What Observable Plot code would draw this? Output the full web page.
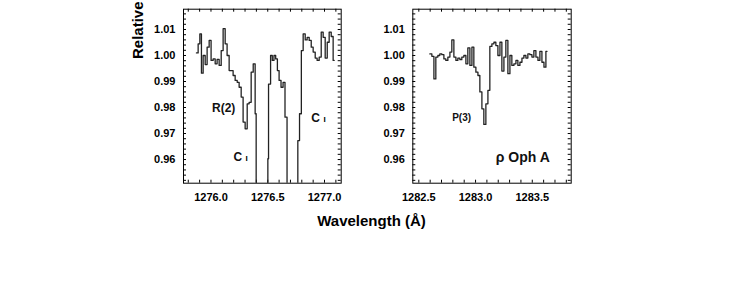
<!DOCTYPE html>
<html>
<head>
<meta charset="utf-8">
<script src="https://cdn.jsdelivr.net/npm/d3@7"></script>
<script src="https://cdn.jsdelivr.net/npm/@observablehq/plot@0.6"></script>
<style>
  html, body { margin: 0; padding: 0; background: #fff; }
  #wrap { position: relative; width: 739px; height: 292px; background: #fff; overflow: hidden; }
  #wrap > .panel { position: absolute; top: 0; }
  #overlay { position: absolute; left: 0; top: 0; }
</style>
</head>
<body>
<div id="wrap"></div>
<script>
// ---- Data: left panel (C I 1276 region, R(2)) ----
const leftWl = [1275.872, 1275.887, 1275.902, 1275.916, 1275.931, 1275.949, 1275.966, 1275.984,
  1276.001, 1276.019, 1276.037, 1276.054, 1276.072, 1276.090, 1276.107, 1276.125, 1276.142,
  1276.160, 1276.178, 1276.195, 1276.213, 1276.231, 1276.248, 1276.266, 1276.283, 1276.301,
  1276.319, 1276.336, 1276.354, 1276.372, 1276.389, 1276.398, 1276.501, 1276.507, 1276.525,
  1276.540, 1276.555, 1276.570, 1276.585, 1276.600, 1276.617, 1276.635, 1276.652, 1276.670,
  1276.765, 1276.780, 1276.796, 1276.812, 1276.830, 1276.847, 1276.865, 1276.883, 1276.900,
  1276.918, 1276.935, 1276.953, 1276.971, 1276.988, 1277.006, 1277.024, 1277.041, 1277.059,
  1277.076, 1277.085];
const leftFlux = [1.0010, 1.0045, 1.0083, 0.9932, 1.0000, 0.9965, 1.0032, 1.0058,
  0.9981, 0.9987, 0.9968, 0.9985, 0.9962, 1.0019, 1.0103, 1.0045, 1.0000,
  0.9942, 0.9942, 0.9923, 0.9904, 0.9897, 0.9878, 0.9840, 0.9744, 0.9718,
  0.9814, 0.9820, 0.9936, 0.9968, 0.9776, 0.9000, 0.9603, 0.9890, 1.0000,
  0.9981, 1.0000, 0.9987, 0.9942, 0.9904, 0.9878, 0.9897, 0.9763, 0.9000,
  0.9673, 0.9776, 1.0019, 1.0083, 1.0060, 1.0070, 1.0058, 1.0032, 1.0013,
  0.9990, 0.9981, 0.9994, 1.0090, 1.0070, 0.9990, 1.0051, 1.0090, 1.0073,
  0.9981, 0.9981];

// ---- Data: right panel (P(3) region) ----
const rightWl = [1282.597, 1282.615, 1282.633, 1282.650, 1282.668, 1282.685, 1282.703, 1282.721,
  1282.738, 1282.756, 1282.774, 1282.791, 1282.809, 1282.827, 1282.844, 1282.862, 1282.879,
  1282.897, 1282.915, 1282.932, 1282.950, 1282.968, 1282.985, 1283.003, 1283.021, 1283.038,
  1283.056, 1283.073, 1283.091, 1283.109, 1283.126, 1283.144, 1283.162, 1283.179, 1283.197,
  1283.215, 1283.232, 1283.250, 1283.267, 1283.285, 1283.303, 1283.320, 1283.338, 1283.356,
  1283.373, 1283.391, 1283.409, 1283.426, 1283.444, 1283.461, 1283.479, 1283.497, 1283.514,
  1283.532, 1283.550, 1283.567, 1283.585, 1283.603, 1283.620, 1283.630];
const rightFlux = [1.0006, 0.9997, 0.9910, 0.9994, 1.0000, 1.0006, 1.0003, 0.9987,
  0.9981, 0.9994, 1.0013, 1.0060, 0.9994, 0.9981, 0.9990, 0.9984, 0.9994,
  1.0000, 0.9968, 1.0029, 0.9962, 1.0032, 0.9955, 0.9936, 0.9923, 0.9860,
  0.9795, 0.9735, 0.9814, 0.9866, 1.0035, 1.0045, 1.0051, 1.0038, 1.0000,
  1.0051, 0.9940, 0.9994, 1.0058, 0.9930, 1.0000, 0.9962, 0.9968, 0.9981,
  0.9962, 0.9974, 0.9990, 1.0000, 0.9990, 1.0006, 1.0003, 0.9994, 1.0019,
  0.9994, 0.9981, 1.0016, 0.9974, 0.9955, 1.0016, 1.0016];

// ---- Axis ticks ----
const leftXMajor = [1276.0, 1276.5, 1277.0];
const leftXMinor = [1275.8, 1275.9, 1276.0, 1276.1, 1276.2, 1276.3, 1276.4, 1276.5, 1276.6, 1276.7, 1276.8, 1276.9, 1277.0, 1277.1];
const rightXMajor = [1282.5, 1283.0, 1283.5];
const rightXMinor = [1282.5, 1282.6, 1282.7, 1282.8, 1282.9, 1283.0, 1283.1, 1283.2, 1283.3, 1283.4, 1283.5, 1283.6, 1283.7, 1283.8];
const yMajor = [0.96, 0.97, 0.98, 0.99, 1.00, 1.01];
const yMinor = [0.952, 0.954, 0.956, 0.958, 0.960, 0.962, 0.964, 0.966, 0.968, 0.970, 0.972, 0.974, 0.976, 0.978,
  0.980, 0.982, 0.984, 0.986, 0.988, 0.990, 0.992, 0.994, 0.996, 0.998, 1.000, 1.002, 1.004, 1.006, 1.008,
  1.010, 1.012, 1.014, 1.016];

// ---- Annotations ----
const leftLabels = ["R(2)"];
const leftLabelX = [1276.112];
const leftLabelY = [0.9796];
const ciLabelX = [1276.262, 1276.947];
const ciLabelY = [0.9608, 0.9758];
const rightLabels = ["P(3)", "ρ Oph A"];
const rightLabelX = [1282.877, 1283.416];
const rightLabelY = [0.9762, 0.9608];

const font = "'Liberation Sans', Arial, Helvetica, sans-serif";
const W = 210, H = 210, MT = 8.7, MB = 27.3, MR = 9.3;
const TICK = 3;

function panel({wl, flux, xDomain, xMajor, xMinor, marginLeft, extraMarks}) {
  const data = wl.map((x, i) => ({x, y: flux[i]}));
  const innerH = H - MT - MB;
  const innerW = W - marginLeft - MR;
  return Plot.plot({
    width: W,
    height: H,
    marginLeft,
    marginRight: MR,
    marginTop: MT,
    marginBottom: MB,
    x: {domain: xDomain},
    y: {domain: [0.9509, 1.0178]},
    style: {fontFamily: font, fontSize: "11px", fontWeight: "bold", color: "black", background: "transparent", overflow: "visible"},
    marks: [
      Plot.axisX(xMajor, {anchor: "bottom", tickSize: 0, tickPadding: 10, tickFormat: d3.format(".1f"), label: null}),
      Plot.axisY(yMajor, {anchor: "left", tickSize: 0, tickPadding: 8, tickFormat: d3.format(".2f"), label: null}),
      // inward minor ticks on all four sides
      Plot.ruleX(xMinor, {x: d => d, insetTop: innerH - TICK, stroke: "black", strokeWidth: 1}),
      Plot.ruleX(xMinor, {x: d => d, insetBottom: innerH - TICK, stroke: "black", strokeWidth: 1}),
      Plot.ruleY(yMinor, {y: d => d, insetRight: innerW - TICK, stroke: "black", strokeWidth: 1}),
      Plot.ruleY(yMinor, {y: d => d, insetLeft: innerW - TICK, stroke: "black", strokeWidth: 1}),
      Plot.lineY(data, {x: "x", y: "y", curve: "step-after", stroke: "#222", strokeWidth: 1.3, clip: true}),
      Plot.frame({stroke: "black", strokeWidth: 1}),
      ...extraMarks
    ]
  });
}

const left = panel({
  wl: leftWl, flux: leftFlux,
  xDomain: [1275.758, 1277.147],
  xMajor: leftXMajor, xMinor: leftXMinor,
  marginLeft: 43,
  extraMarks: [
    Plot.text(leftLabels, {x: (d, i) => leftLabelX[i], y: (d, i) => leftLabelY[i], text: d => d, fontSize: 12, fontWeight: "bold", fill: "#111"}),
    Plot.text(ciLabelX, {x: d => d, y: (d, i) => ciLabelY[i], text: () => "C", fontSize: 12, fontWeight: "bold", fill: "#111", dx: -3}),
    Plot.text(ciLabelX, {x: d => d, y: (d, i) => ciLabelY[i], text: () => "I", fontSize: 8, fontWeight: "bold", fill: "#000", dx: 6, dy: 0.5})
  ]
});
left.classList.add("panel");
left.style.left = "140px";

const right = panel({
  wl: rightWl, flux: rightFlux,
  xDomain: [1282.447, 1283.843],
  xMajor: rightXMajor, xMinor: rightXMinor,
  marginLeft: 42.3,
  extraMarks: [
    Plot.text(rightLabels, {x: (d, i) => rightLabelX[i], y: (d, i) => rightLabelY[i], text: d => d, fontSize: (d, i) => i === 0 ? 10 : 14, fontWeight: "bold", fill: "#111"})
  ]
});
right.classList.add("panel");
right.style.left = "370px";

const wrap = document.getElementById("wrap");
wrap.appendChild(left);
wrap.appendChild(right);

// Shared axis titles
const ns = "http://www.w3.org/2000/svg";
const ov = document.createElementNS(ns, "svg");
ov.setAttribute("id", "overlay");
ov.setAttribute("width", 739);
ov.setAttribute("height", 292);
ov.setAttribute("font-family", font);
ov.setAttribute("font-weight", "bold");
const yt = document.createElementNS(ns, "text");
yt.setAttribute("transform", "translate(143,59) rotate(-90)");
yt.setAttribute("font-size", "15");
yt.setAttribute("text-anchor", "start");
yt.textContent = "Relative";
ov.appendChild(yt);
const xt = document.createElementNS(ns, "text");
xt.setAttribute("x", 371.5);
xt.setAttribute("y", 226);
xt.setAttribute("font-size", "15");
xt.setAttribute("text-anchor", "middle");
xt.textContent = "Wavelength (Å)";
ov.appendChild(xt);
wrap.appendChild(ov);
</script>
</body>
</html>
